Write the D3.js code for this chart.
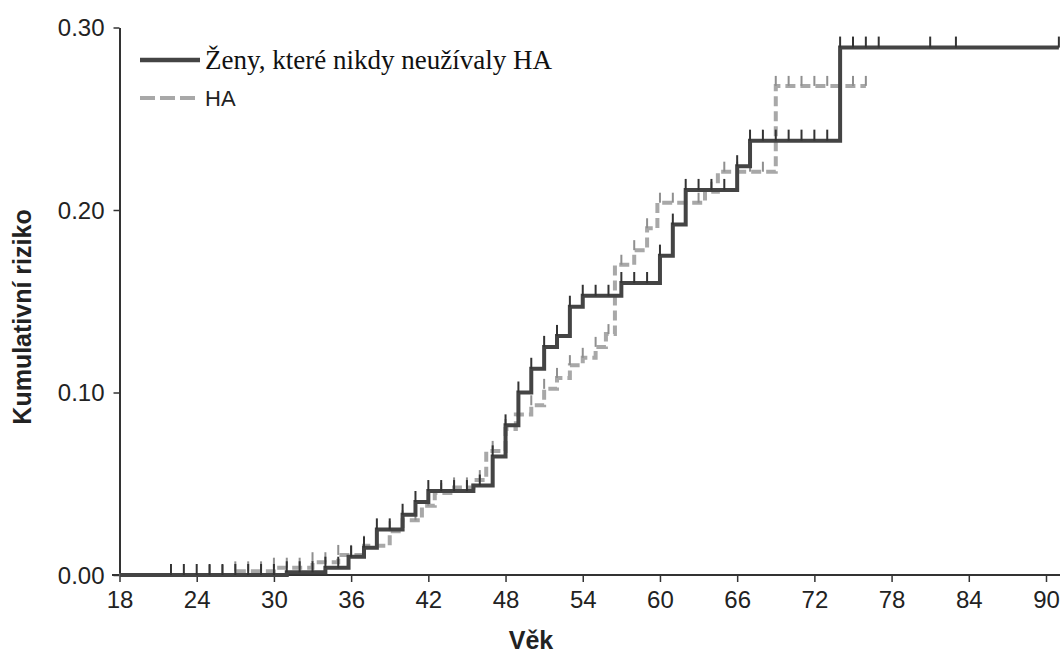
<!DOCTYPE html>
<html>
<head>
<meta charset="utf-8">
<script src="https://cdn.jsdelivr.net/npm/d3@7"></script>
<style>
  body { margin: 0; background: #fff; }
  svg { display: block; }
  .tick text { font-family: "Liberation Sans", Arial, sans-serif; font-size: 24px; fill: #222; }
</style>
</head>
<body>
<div class="chart"></div>
<script>
// step data: [age, cumulative risk] - value holds from age until next age
const neverAges = [18, 31, 34, 35.8, 37, 38, 40, 41, 42, 45.5, 47, 48, 49, 50, 51, 52, 53, 54, 57, 60, 61, 62, 66, 67, 74, 91];
const neverRisk = [0, 0.0015, 0.004, 0.010, 0.015, 0.025, 0.033, 0.040, 0.046, 0.049, 0.065, 0.082, 0.100, 0.113, 0.125, 0.131, 0.147, 0.153, 0.160, 0.175, 0.192, 0.211, 0.224, 0.238, 0.289, 0.289];

const haAges = [18, 27, 30, 33, 35, 37, 39, 40, 41.5, 42.5, 44, 45.5, 46.5, 48, 48.8, 50, 51, 52, 53, 54, 55, 55.8, 56.5, 58, 59, 59.8, 63.5, 64.5, 69, 76];
const haRisk = [0, 0.002, 0.004, 0.007, 0.011, 0.016, 0.024, 0.030, 0.038, 0.045, 0.048, 0.052, 0.068, 0.080, 0.088, 0.093, 0.102, 0.108, 0.115, 0.119, 0.125, 0.132, 0.170, 0.178, 0.190, 0.204, 0.210, 0.221, 0.268, 0.268];

// censoring marks
const neverCensor = d3.range(22, 78).concat([81, 83, 91]);
const haCensor = d3.range(25, 77);

const xTicks = [18, 24, 30, 36, 42, 48, 54, 60, 66, 72, 78, 84, 90];
const yTicks = [0, 0.1, 0.2, 0.3];

const legendLabels = ["Ženy, které nikdy neužívaly HA", "HA"];

let width = 1064, height = 655;

let svg = d3.select(".chart").append("svg")
  .attr("width", width)
  .attr("height", height);

let x = d3.scaleLinear().domain([18, 90]).range([119.5, 1046]);
let y = d3.scaleLinear().domain([0, 0.3]).range([575, 27.5]);

// axes
let xAxis = svg.append("g")
  .attr("transform", "translate(0," + y(0) + ")")
  .call(d3.axisBottom(x).tickValues(xTicks).tickSize(7).tickSizeOuter(0).tickPadding(9).tickFormat(d3.format("d")));
xAxis.select(".domain").remove();
xAxis.append("line")
  .attr("x1", 112).attr("x2", 1060)
  .attr("stroke", "#333").attr("stroke-width", 2);
xAxis.selectAll(".tick line").attr("stroke", "#333").attr("stroke-width", 1.5);

let yAxis = svg.append("g")
  .attr("transform", "translate(" + x(18) + ",0)")
  .call(d3.axisLeft(y).tickValues(yTicks).tickSize(6).tickSizeOuter(0).tickPadding(9).tickFormat(d3.format(".2f")));
yAxis.select(".domain").attr("stroke", "#333").attr("stroke-width", 2);
yAxis.selectAll(".tick line").attr("stroke", "#333").attr("stroke-width", 1.5);
yAxis.selectAll(".tick text").attr("dy", "0.35em");

// axis titles
svg.append("text")
  .attr("transform", "translate(31,317) rotate(-90)")
  .attr("text-anchor", "middle")
  .style("font-family", "Liberation Sans, Arial, sans-serif")
  .style("font-size", "25px")
  .style("font-weight", "bold")
  .attr("fill", "#222")
  .text("Kumulativní riziko");

svg.append("text")
  .attr("x", 531).attr("y", 649)
  .attr("text-anchor", "middle")
  .style("font-family", "Liberation Sans, Arial, sans-serif")
  .style("font-size", "25px")
  .style("font-weight", "bold")
  .attr("fill", "#222")
  .text("Věk");

let stepLine = d3.line()
  .x(function(d) { return x(d[0]); })
  .y(function(d) { return y(d[1]); })
  .curve(d3.curveStepAfter);

let neverData = neverAges.map(function(a, i) { return [a, neverRisk[i]]; });
let haData = haAges.map(function(a, i) { return [a, haRisk[i]]; });

function valueAt(ages, risk, a) {
  let i = d3.bisectRight(ages, a) - 1;
  return risk[Math.max(0, Math.min(i, risk.length - 1))];
}

// HA series (dashed, behind)
svg.append("path")
  .datum(haData)
  .attr("fill", "none")
  .attr("stroke", "#a8a8a8")
  .attr("stroke-width", 4)
  .attr("stroke-dasharray", "10,5")
  .attr("d", stepLine);

svg.selectAll(".haCensor")
  .data(haCensor)
  .enter().append("line")
  .attr("class", "haCensor")
  .attr("x1", function(d) { return x(d); })
  .attr("x2", function(d) { return x(d); })
  .attr("y1", function(d) { return y(valueAt(haAges, haRisk, d)); })
  .attr("y2", function(d) { return y(valueAt(haAges, haRisk, d)) - 10; })
  .attr("stroke", "#8f8f8f")
  .attr("stroke-width", 2);

// never-users series (solid)
svg.append("path")
  .datum(neverData)
  .attr("fill", "none")
  .attr("stroke", "#444")
  .attr("stroke-width", 4)
  .attr("d", stepLine);

svg.selectAll(".neverCensor")
  .data(neverCensor)
  .enter().append("line")
  .attr("class", "neverCensor")
  .attr("x1", function(d) { return x(d); })
  .attr("x2", function(d) { return x(d); })
  .attr("y1", function(d) { return y(valueAt(neverAges, neverRisk, d)); })
  .attr("y2", function(d) { return y(valueAt(neverAges, neverRisk, d)) - 11; })
  .attr("stroke", "#333")
  .attr("stroke-width", 2);

// legend
let legend = svg.append("g");
legend.append("line")
  .attr("x1", 140).attr("x2", 200).attr("y1", 60).attr("y2", 60)
  .attr("stroke", "#444").attr("stroke-width", 4.5);
legend.append("text")
  .attr("x", 205).attr("y", 69)
  .style("font-family", "Liberation Serif, 'Times New Roman', serif")
  .style("font-size", "27px")
  .attr("fill", "#111")
  .text(legendLabels[0]);
legend.append("line")
  .attr("x1", 140).attr("x2", 200).attr("y1", 98).attr("y2", 98)
  .attr("stroke", "#a8a8a8").attr("stroke-width", 4)
  .attr("stroke-dasharray", "15,5");
legend.append("text")
  .attr("x", 205).attr("y", 106)
  .style("font-family", "Liberation Sans, Arial, sans-serif")
  .style("font-size", "22px")
  .attr("fill", "#222")
  .text(legendLabels[1]);
</script>
</body>
</html>
